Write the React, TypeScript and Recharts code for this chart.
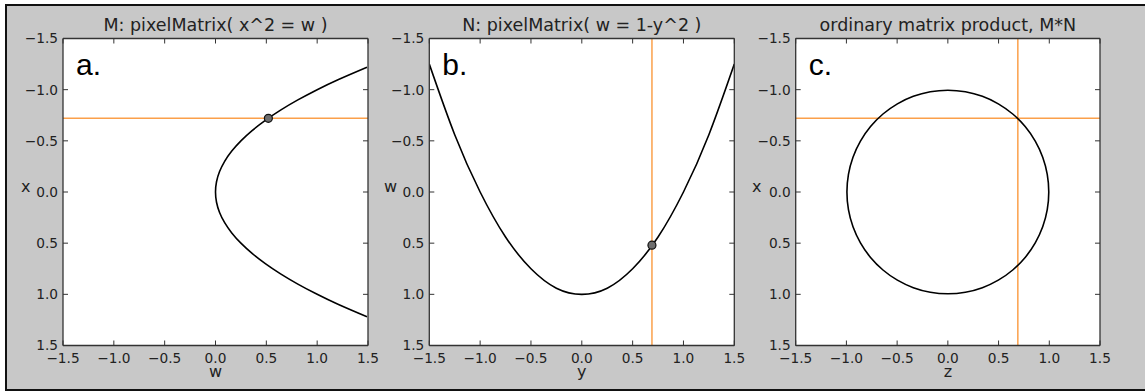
import {
  ComposedChart,
  Line,
  XAxis,
  YAxis,
  ReferenceLine,
  ReferenceDot,
  CartesianGrid,
  Label,
} from "recharts";

const axisTicks = [-1.5, -1.0, -0.5, 0.0, 0.5, 1.0, 1.5];

// panel a: x^2 = w, w across, x down
const curveAx = [-1.22, -1.1, -1.0, -0.9, -0.8, -0.7, -0.6, -0.5, -0.4, -0.3, -0.2, -0.1, 0, 0.1, 0.2, 0.3, 0.4, 0.5, 0.6, 0.7, 0.8, 0.9, 1.0, 1.1, 1.22];
const curveAw = [1.49, 1.21, 1.0, 0.81, 0.64, 0.49, 0.36, 0.25, 0.16, 0.09, 0.04, 0.01, 0, 0.01, 0.04, 0.09, 0.16, 0.25, 0.36, 0.49, 0.64, 0.81, 1.0, 1.21, 1.49];
const markerAw = 0.52;
const markerAx = -0.72;
const lineAx = -0.72;

// panel b: w = 1-y^2, y across, w down
const curveBy = [-1.5, -1.25, -1.0, -0.75, -0.5, -0.25, 0, 0.25, 0.5, 0.75, 1.0, 1.25, 1.5];
const curveBw = [-1.25, -0.56, 0, 0.44, 0.75, 0.94, 1.0, 0.94, 0.75, 0.44, 0, -0.56, -1.25];
const markerBy = 0.69;
const markerBw = 0.52;
const lineBy = 0.69;

// panel c: the circle from M*N, z across, x down
const circleZ = [1, 0.985, 0.94, 0.866, 0.766, 0.643, 0.5, 0.342, 0.174, 0, -0.174, -0.342, -0.5, -0.643, -0.766, -0.866, -0.94, -0.985, -1, -0.985, -0.94, -0.866, -0.766, -0.643, -0.5, -0.342, -0.174, 0, 0.174, 0.342, 0.5, 0.643, 0.766, 0.866, 0.94, 0.985];
const circleX = [0, 0.174, 0.342, 0.5, 0.643, 0.766, 0.866, 0.94, 0.985, 1, 0.985, 0.94, 0.866, 0.766, 0.643, 0.5, 0.342, 0.174, 0, -0.174, -0.342, -0.5, -0.643, -0.766, -0.866, -0.94, -0.985, -1, -0.985, -0.94, -0.866, -0.766, -0.643, -0.5, -0.342, -0.174];
const lineCx = -0.72;
const lineCz = 0.69;

const font = "'DejaVu Sans', sans-serif";
const ink = "#222";
const frame = "#333";
const orange = "#fba04a";
const PLOT_H = 307;

const fmt = (v: number) => (v < 0 ? "\u2212" + Math.abs(v).toFixed(1) : v.toFixed(1));

const pair = (h: number[], v: number[]) => h.map((x, i) => ({ h: x, v: v[i] }));

function Panel(props: any) {
  const { left, mLeft, mRight, title, letter, xLabel, yLabel, yLabelX, data, curve, marker, hLine, vLine } = props;
  const plotW = 380 - mLeft - mRight - 50;

  const bottomTick = (p: any) => (
    <g>
      <line x1={p.x} x2={p.x} y1={p.y - 8} y2={p.y - 13} stroke={frame} />
      <line x1={p.x} x2={p.x} y1={p.y - 8 - PLOT_H} y2={p.y - 3 - PLOT_H} stroke={frame} />
      <text x={p.x} y={p.y} dy="0.71em" textAnchor="middle" fill={ink} fontSize={13.7} fontFamily={font}>
        {fmt(p.payload.value)}
      </text>
    </g>
  );
  const leftTick = (p: any) => (
    <g>
      <line x1={p.x + 5} x2={p.x + 10} y1={p.y} y2={p.y} stroke={frame} />
      <line x1={p.x + 5 + plotW} x2={p.x + plotW} y1={p.y} y2={p.y} stroke={frame} />
      <text x={p.x} y={p.y} dy="0.36em" textAnchor="end" fill={ink} fontSize={13.7} fontFamily={font}>
        {fmt(p.payload.value)}
      </text>
    </g>
  );

  return (
    <div style={{ position: "absolute", left, top: 0 }}>
      <ComposedChart
        width={380}
        height={392}
        margin={{ top: 37.5, right: mRight - 1, bottom: 6.5, left: mLeft }}
        style={{ overflow: "visible" }}
      >
        <CartesianGrid fill="#fff" stroke="none" horizontal={false} vertical={false} />
        <XAxis
          type="number"
          dataKey="h"
          domain={[-1.5, 1.5]}
          ticks={axisTicks}
          interval={0}
          allowDataOverflow
          height={40}
          tickSize={0}
          tickMargin={8}
          tickLine={false}
          axisLine={{ stroke: frame, strokeWidth: 1.3 }}
          tick={bottomTick}
        >
          <Label
            content={({ viewBox }: any) => (
              <text x={viewBox.x + viewBox.width / 2} y={viewBox.y + 31.5} textAnchor="middle" fill={ink} fontSize={16} fontFamily={font}>
                {xLabel}
              </text>
            )}
          />
        </XAxis>
        <XAxis
          xAxisId="top"
          orientation="top"
          type="number"
          domain={[-1.5, 1.5]}
          ticks={axisTicks}
          height={1}
          tick={false}
          tickLine={false}
          axisLine={{ stroke: frame, strokeWidth: 1.3 }}
        >
          <Label
            content={({ viewBox }: any) => (
              <g>
                <text x={viewBox.x + viewBox.width / 2} y={viewBox.y + viewBox.height - 7.5} textAnchor="middle" fill={ink} fontSize={17.5} fontFamily={font}>
                  {title}
                </text>
                <text x={viewBox.x + 13} y={viewBox.y + viewBox.height + 36.5} fill="#000" fontSize={30} fontFamily="'Liberation Sans', Arial, sans-serif">
                  {letter}
                </text>
              </g>
            )}
          />
        </XAxis>
        <YAxis
          type="number"
          dataKey="v"
          domain={[-1.5, 1.5]}
          ticks={axisTicks}
          interval={0}
          reversed
          allowDataOverflow
          width={50}
          tickSize={0}
          tickMargin={5}
          tickLine={false}
          axisLine={{ stroke: frame, strokeWidth: 1.3 }}
          tick={leftTick}
        >
          <Label
            content={({ viewBox }: any) => (
              <text x={yLabelX} y={viewBox.y + viewBox.height / 2 - 0.5} fill={ink} fontSize={16} fontFamily={font}>
                {yLabel}
              </text>
            )}
          />
        </YAxis>
        <YAxis
          yAxisId="right"
          orientation="right"
          type="number"
          domain={[-1.5, 1.5]}
          ticks={axisTicks}
          reversed
          width={1}
          tick={false}
          tickLine={false}
          axisLine={{ stroke: frame, strokeWidth: 1.3 }}
        />
        {hLine !== undefined && <ReferenceLine y={hLine} stroke={orange} strokeWidth={1.5} />}
        {vLine !== undefined && <ReferenceLine x={vLine} stroke={orange} strokeWidth={1.5} />}
        <Line
          data={data}
          dataKey="v"
          type={curve}
          stroke="#000"
          strokeWidth={1.6}
          dot={false}
          activeDot={false}
          isAnimationActive={false}
        />
        {marker && (
          <ReferenceDot x={marker[0]} y={marker[1]} r={4} fill="#6e6e6e" stroke="#111" strokeWidth={1.2} />
        )}
      </ComposedChart>
    </div>
  );
}

export default function App() {
  return (
    <div style={{ position: "absolute", left: 0, top: 0, width: 1145, height: 392, background: "#fff", overflow: "hidden" }}>
      <div
        style={{
          position: "absolute",
          left: 5,
          top: 4,
          width: 1145,
          height: 387,
          boxSizing: "border-box",
          background: "#c8c8c8",
          borderTop: "2px solid #111",
          borderLeft: "2px solid #111",
          borderBottom: "2px solid #111",
        }}
      />
      <Panel
        left={0}
        mLeft={13}
        mRight={12}
        title="M: pixelMatrix( x^2 = w )"
        letter="a."
        xLabel="w"
        yLabel="x"
        yLabelX={21}
        data={pair(curveAw, curveAx)}
        curve="natural"
        marker={[markerAw, markerAx]}
        hLine={lineAx}
      />
      <Panel
        left={370}
        mLeft={9.3}
        mRight={15.7}
        title="N: pixelMatrix( w = 1-y^2 )"
        letter="b."
        xLabel="y"
        yLabel="w"
        yLabelX={14}
        data={pair(curveBy, curveBw)}
        curve="natural"
        marker={[markerBy, markerBw]}
        vLine={lineBy}
      />
      <Panel
        left={740}
        mLeft={5.7}
        mRight={20}
        title="ordinary matrix product, M*N"
        letter="c."
        xLabel="z"
        yLabel="x"
        yLabelX={12}
        data={pair(circleZ, circleX)}
        curve="basisClosed"
        hLine={lineCx}
        vLine={lineCz}
      />
    </div>
  );
}
